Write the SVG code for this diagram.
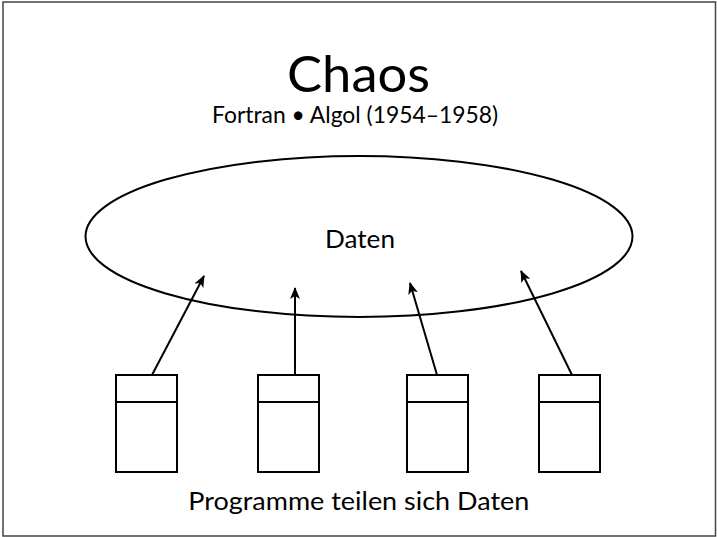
<svg xmlns="http://www.w3.org/2000/svg" width="717" height="537" viewBox="0 0 717 537">
<style>
.t{font-family:Lato,"Liberation Sans",sans-serif;fill:#000;text-anchor:middle}
.s{fill:none;stroke:#000;stroke-width:2}
.box{fill:#fff;stroke:#000;stroke-width:2}
</style>
<defs>
<marker id="ah" viewBox="0 0 12 10" refX="11" refY="5" markerWidth="12" markerHeight="10" markerUnits="userSpaceOnUse" orient="auto">
<path d="M0,0 L12,5 L0,10 L3,5 Z" fill="#000"/>
</marker>
</defs>
<rect x="0" y="0" width="717" height="537" fill="#fff"/>
<rect x="3" y="2" width="712.5" height="534" fill="none" stroke="#444" stroke-width="1.5"/>
<g id="title">
<text class="t" x="358.5" y="92" font-size="50" textLength="143" lengthAdjust="spacingAndGlyphs">Chaos</text>
<text class="t" x="355" y="123" font-size="23" textLength="286" lengthAdjust="spacingAndGlyphs">Fortran • Algol (1954–1958)</text>
</g>
<g id="daten">
<ellipse class="s" cx="359" cy="236.5" rx="273.5" ry="80.5"/>
<text class="t" x="360" y="248" font-size="25" textLength="70" lengthAdjust="spacingAndGlyphs">Daten</text>
</g>
<g id="prog1"><rect class="box" x="116" y="375" width="61" height="97"/><line class="s" x1="116" y1="402" x2="177" y2="402"/></g>
<g id="prog2"><rect class="box" x="258" y="375" width="61" height="97"/><line class="s" x1="258" y1="402" x2="319" y2="402"/></g>
<g id="prog3"><rect class="box" x="407" y="375" width="61" height="97"/><line class="s" x1="407" y1="402" x2="468" y2="402"/></g>
<g id="prog4"><rect class="box" x="539" y="375" width="61" height="97"/><line class="s" x1="539" y1="402" x2="600" y2="402"/></g>
<g id="connectors">
<line class="s" x1="152" y1="375" x2="204" y2="276" marker-end="url(#ah)"/>
<line class="s" x1="295" y1="375" x2="295" y2="288" marker-end="url(#ah)"/>
<line class="s" x1="437" y1="375" x2="410" y2="283" marker-end="url(#ah)"/>
<line class="s" x1="572" y1="375" x2="521" y2="271" marker-end="url(#ah)"/>
</g>
<g id="caption">
<text class="t" x="358.8" y="510" font-size="25" textLength="341" lengthAdjust="spacingAndGlyphs">Programme teilen sich Daten</text>
</g>
</svg>
